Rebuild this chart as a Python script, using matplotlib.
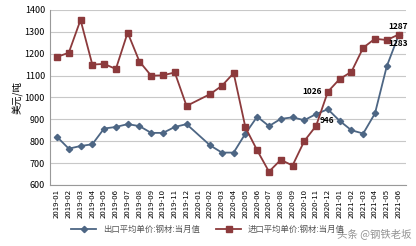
import matplotlib.pyplot as plt
import numpy as np

plt.rcParams['font.family'] = ['Noto Sans CJK SC', 'DejaVu Sans']

months = ["2019-01", "2019-02", "2019-03", "2019-04", "2019-05", "2019-06",
          "2019-07", "2019-08", "2019-09", "2019-10", "2019-11", "2019-12",
          "2020-01", "2020-02", "2020-03", "2020-04", "2020-05", "2020-06",
          "2020-07", "2020-08", "2020-09", "2020-10", "2020-11", "2020-12",
          "2021-01", "2021-02", "2021-03", "2021-04", "2021-05", "2021-06"]

# export price (no value for 2020-01)
export_price = [820, 766, 778, 786, 858, 865, 878, 869, 838, 838, 865, 878,
                np.nan, 781, 748, 748, 835, 912, 869, 902, 909, 896, 924, 946,
                893, 850, 835, 927, 1142, 1283]

# import price (no value for 2020-01)
import_price = [1185, 1204, 1354, 1150, 1153, 1130, 1296, 1164, 1099, 1101, 1114, 961,
                np.nan, 1015, 1053, 1111, 863, 758, 661, 715, 689, 801, 870, 1026,
                1084, 1117, 1227, 1268, 1262, 1287]

blue = "#4d6684"
red = "#8c3a3c"

x = np.arange(len(months))
ex = np.array(export_price, dtype=float)
im = np.array(import_price, dtype=float)

fig = plt.figure(figsize=(4.16, 2.46), dpi=100)
ax = fig.add_axes([0.12, 0.248, 0.855, 0.712])

m1 = ~np.isnan(ex)
m2 = ~np.isnan(im)
ax.plot(x[m1], ex[m1], color=blue, lw=1.3, marker="D", ms=3.2,
        label="出口平均单价:钢材:当月值")
ax.plot(x[m2], im[m2], color=red, lw=1.3, marker="s", ms=4.5,
        label="进口平均单价:钢材:当月值")

ax.set_ylim(600, 1400)
ax.set_xlim(-0.6, len(months) - 0.4)
ax.set_yticks(range(600, 1401, 100))
ax.set_xticks(x)
ax.set_xticklabels(months, rotation=90, fontsize=5.6)
ax.tick_params(axis="y", labelsize=6.5, length=0)
ax.tick_params(axis="x", length=0, pad=3)
ax.grid(axis="y", color="#c8c8c8", lw=0.8)
ax.set_axisbelow(True)
for s in ["top", "right"]:
    ax.spines[s].set_visible(False)
ax.spines["left"].set_color("#999999")
ax.spines["bottom"].set_color("#999999")
ax.set_ylabel("美元/吨", fontsize=7, labelpad=1)

# data labels
ax.annotate("1026", (23, 1026), xytext=(-4, 0), textcoords="offset points",
            ha="right", va="center", fontsize=6, fontweight="bold")
ax.annotate("946", (23, 946), xytext=(-1, -8), textcoords="offset points",
            ha="center", va="center", fontsize=6, fontweight="bold")
ax.annotate("1287", (29, 1287), xytext=(0, 6), textcoords="offset points",
            ha="center", va="center", fontsize=6, fontweight="bold")
ax.annotate("1283", (29, 1283), xytext=(0, -6), textcoords="offset points",
            ha="center", va="center", fontsize=6, fontweight="bold")

fig.legend(loc="lower center", bbox_to_anchor=(0.5, 0.02), ncol=2,
           frameon=False, fontsize=6, handlelength=3, columnspacing=2.0,
           labelcolor="#555555")

fig.text(0.988, 0.05, "头条 @钢铁老坂", ha="right", va="center",
         fontsize=7.5, color="#777777", alpha=0.8)

fig.savefig("out.png", dpi=100)
